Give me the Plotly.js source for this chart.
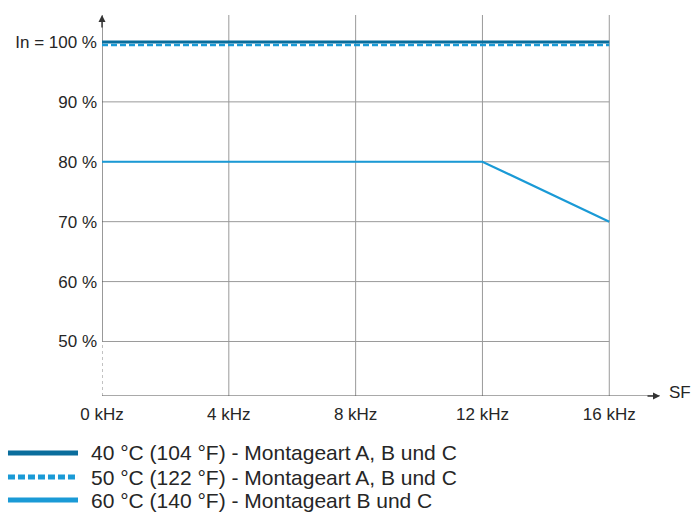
<!DOCTYPE html>
<html>
<head>
<meta charset="utf-8">
<script src="https://cdn.plot.ly/plotly-3.0.1.min.js"></script>
<style>html,body{margin:0;padding:0;background:#fff;}#chart{width:691px;height:518px;}</style>
</head>
<body>
<div id="chart"></div>
<script>
// ---- data ----
const freqKHz = [0, 4, 8, 12, 16];
const xTickLabels = ["0 kHz", "4 kHz", "8 kHz", "12 kHz", "16 kHz"];
const yTickVals = [50, 60, 70, 80, 90, 100];
const yTickLabels = ["50 %", "60 %", "70 %", "80 %", "90 %", "In = 100 %"];
const series40 = [100, 100, 100, 100, 100];
const series50 = [99.5, 99.5, 99.5, 99.5, 99.5];
const series60 = [80, 80, 80, 80, 70];
const seriesNames = [
  "40 °C (104 °F) - Montageart A, B und C",
  "50 °C (122 °F) - Montageart A, B und C",
  "60 °C (140 °F) - Montageart B und C"
];
const xAxisName = "SF";

// ---- styles ----
const colDark = "#0a6d9c";
const colLight = "#1a9ad6";
const gridCol = "#9a9a9a";
const axisCol = "#555555";
const textCol = "#262626";
const FONT = "Liberation Sans, Arial, sans-serif";
const xMin = 0, xMax = 17.6, yMin = 40.9, yMax = 104.5;

const traces = [
  {x: freqKHz, y: series40, mode: "lines", name: seriesNames[0], line: {color: colDark, width: 3}},
  {x: freqKHz, y: series50, mode: "lines", name: seriesNames[1], line: {color: colLight, width: 2.5, dash: "6px,3px"}},
  {x: freqKHz, y: series60, mode: "lines", name: seriesNames[2], line: {color: colLight, width: 2.2}}
];

const shapes = [];
yTickVals.forEach(v => {
  if (v < 100) shapes.push({type: "line", xref: "x", yref: "y", x0: freqKHz[0], x1: freqKHz[freqKHz.length-1], y0: v, y1: v, line: {color: gridCol, width: 1}, layer: "below"});
});
freqKHz.forEach(f => {
  if (f > 0) shapes.push({type: "line", xref: "x", yref: "y", x0: f, x1: f, y0: yMin, y1: yMax, line: {color: gridCol, width: 1}, layer: "below"});
});
shapes.push({type: "line", xref: "x", yref: "y", x0: 0, x1: 0, y0: yTickVals[0], y1: yMax, line: {color: axisCol, width: 1.2}, layer: "below"});
shapes.push({type: "line", xref: "x", yref: "y", x0: 0, x1: 0, y0: yMin, y1: yTickVals[0], line: {color: "#999", width: 1.2, dash: "3px,3px"}, layer: "below"});
shapes.push({type: "line", xref: "x", yref: "y", x0: 0, x1: xMax, y0: yMin, y1: yMin, line: {color: axisCol, width: 1.2}, layer: "below"});

const legRowsY = [-0.1496, -0.2126, -0.2730];
const legStyles = [
  {color: colDark, width: 5, dash: "solid"},
  {color: colLight, width: 5, dash: "7px,3px"},
  {color: colLight, width: 5, dash: "solid"}
];
const annotations = [];
seriesNames.forEach((n, i) => {
  shapes.push({type: "line", xref: "paper", yref: "paper", x0: -0.1685, x1: -0.043, y0: legRowsY[i], y1: legRowsY[i], line: legStyles[i]});
  annotations.push({xref: "paper", yref: "paper", x: -0.0233, y: legRowsY[i], xanchor: "left", yanchor: "middle", text: n, showarrow: false, font: {family: FONT, size: 21, color: textCol}});
});
annotations.push({x: 0, y: yMax, xref: "x", yref: "y", ax: 0, ay: 14, text: "", showarrow: true, arrowhead: 2, arrowsize: 1, arrowwidth: 1.4, arrowcolor: "#333", standoff: 0});
annotations.push({x: xMax, y: yMin, xref: "x", yref: "y", ax: -14, ay: 0, text: "", showarrow: true, arrowhead: 2, arrowsize: 1, arrowwidth: 1.4, arrowcolor: "#333", standoff: 0});
annotations.push({xref: "paper", yref: "y", x: 1.012, y: yMin + 0.6, xanchor: "left", yanchor: "middle", text: xAxisName, showarrow: false, font: {family: FONT, size: 17, color: textCol}});

const layout = {
  width: 691, height: 518,
  margin: {l: 102, r: 31, t: 15, b: 122},
  paper_bgcolor: "#fff", plot_bgcolor: "#fff",
  showlegend: false,
  font: {family: FONT, size: 17, color: textCol},
  xaxis: {range: [xMin, xMax], tickvals: freqKHz, ticktext: xTickLabels, showgrid: false, zeroline: false, showline: false, ticks: "", ticklabelstandoff: 6, tickfont: {family: FONT, size: 17, color: textCol}, fixedrange: true},
  yaxis: {range: [yMin, yMax], tickvals: yTickVals, ticktext: yTickLabels, showgrid: false, zeroline: false, showline: false, ticks: "", ticklabelstandoff: 4, tickfont: {family: FONT, size: 17, color: textCol}, fixedrange: true},
  shapes: shapes,
  annotations: annotations
};

Plotly.newPlot("chart", traces, layout, {displayModeBar: false, staticPlot: true});
</script>
</body>
</html>
